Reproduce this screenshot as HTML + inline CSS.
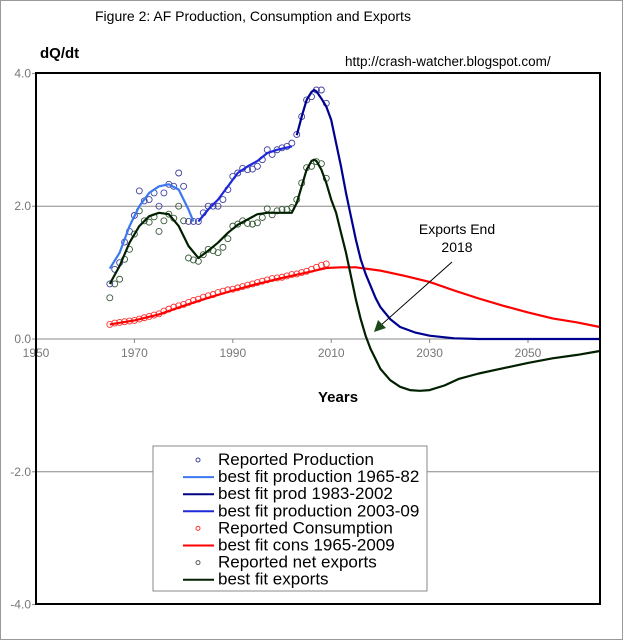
<!DOCTYPE html>
<html><head><meta charset="utf-8"><style>
body{margin:0;background:#fff;}
svg{display:block;font-family:"Liberation Sans",Arial,sans-serif;}
</style></head><body>
<svg id="chart" width="624" height="640" viewBox="0 0 624 640">
<rect x="0.5" y="0.5" width="622" height="639" fill="#fff" stroke="#999"/>
<text x="95" y="21" font-size="14" fill="#000">Figure 2: AF Production, Consumption and Exports</text>
<text x="345" y="66" font-size="13.5" fill="#000">http://crash-watcher.blogspot.com/</text>
<text x="40" y="58" font-size="15" font-weight="bold">dQ/dt</text>
<text x="318" y="402" font-size="15" font-weight="bold">Years</text>
<g id="grid"></g>
<g id="marks"></g>
<text x="457" y="234" font-size="14" text-anchor="middle">Exports End</text>
<text x="457" y="252" font-size="14" text-anchor="middle">2018</text>
<line x1="452" y1="262" x2="380" y2="326" stroke="#000" stroke-width="1"/>
<polygon points="374,332 378,320 386,328" fill="#1a4a1a"/>
<rect x="36" y="73" width="564" height="531" fill="none" stroke="#000" stroke-width="2"/>
<g>
<rect x="153" y="446" width="274" height="145" fill="#fff" stroke="#888"/>
<g id="legend-items" font-size="17"></g>
</g>
</svg>
<script>
const years1 = [1965,1966,1967,1968,1969,1970,1971,1972,1973,1974,1975,1976,1977,1978,1979,1980,1981,1982,1983,1984,1985,1986,1987,1988,1989,1990,1991,1992,1993,1994,1995,1996,1997,1998,1999,2000,2001,2002,2003,2004,2005,2006,2007,2008,2009];
const prodPts = [0.83,1.05,1.15,1.46,1.62,1.86,2.23,2.08,2.1,2.2,2.0,2.2,2.33,2.3,2.5,2.3,1.77,1.77,1.77,1.9,2.0,2.0,2.0,2.1,2.25,2.45,2.5,2.57,2.55,2.56,2.6,2.7,2.85,2.78,2.85,2.88,2.9,2.95,3.08,3.35,3.6,3.65,3.75,3.75,3.55];
const consPts = [0.22,0.24,0.25,0.26,0.27,0.28,0.30,0.32,0.34,0.36,0.38,0.42,0.45,0.48,0.5,0.52,0.55,0.58,0.6,0.63,0.65,0.67,0.7,0.72,0.74,0.75,0.77,0.79,0.81,0.83,0.85,0.87,0.89,0.91,0.92,0.93,0.95,0.97,0.98,1.0,1.02,1.05,1.08,1.11,1.13];
const expPts = [0.62,0.83,0.9,1.2,1.35,1.58,1.93,1.78,1.76,1.84,1.62,1.78,1.88,1.82,2.0,1.78,1.22,1.19,1.17,1.27,1.35,1.33,1.3,1.38,1.51,1.7,1.73,1.78,1.74,1.73,1.75,1.83,1.96,1.87,1.93,1.95,1.95,1.98,2.1,2.35,2.58,2.6,2.67,2.64,2.42];
const fitProd1Yrs = [1965,1967,1969,1971,1973,1975,1977,1979,1981,1982];
const fitProd1 = [1.06,1.3,1.7,2.0,2.2,2.3,2.33,2.25,1.95,1.77];
const fitProd2Yrs = [1983,1985,1987,1989,1991,1993,1995,1997,1999,2002];
const fitProd2 = [1.77,1.95,2.1,2.3,2.5,2.6,2.68,2.8,2.85,2.9];
const fitProd3Yrs = [2003,2004,2005,2006,2006.5,2007,2008,2009,2010,2011,2012,2013,2014,2015,2016,2017,2018,2019,2020,2022,2024,2027,2030,2035,2040,2064.6];
const fitProd3 = [3.07,3.35,3.6,3.72,3.75,3.73,3.62,3.5,3.3,2.95,2.6,2.2,1.85,1.5,1.2,0.98,0.8,0.62,0.48,0.3,0.18,0.1,0.05,0.01,0,0];
const fitConsYrs = [1965,1970,1975,1980,1985,1990,1995,2000,2005,2009,2012,2015,2020,2025,2030,2035,2040,2045,2050,2055,2060,2064.6];
const fitCons = [0.22,0.28,0.37,0.5,0.62,0.73,0.83,0.92,1.0,1.07,1.08,1.08,1.03,0.95,0.86,0.73,0.61,0.5,0.4,0.31,0.25,0.18];
const fitExpYrs = [1965,1967,1969,1971,1973,1975,1977,1979,1981,1983,1985,1987,1989,1991,1993,1995,1997,1999,2002,2003,2004,2005,2006,2006.5,2007,2008,2009,2010,2011,2012,2013,2014,2015,2016,2017,2018,2019,2020,2022,2024,2026,2028,2030,2033,2036,2040,2045,2050,2055,2060,2064.6];
const fitExp = [0.83,1.1,1.45,1.7,1.85,1.9,1.88,1.7,1.4,1.22,1.33,1.45,1.6,1.72,1.8,1.88,1.9,1.9,1.9,2.05,2.3,2.55,2.68,2.7,2.68,2.55,2.35,2.1,1.9,1.6,1.3,0.95,0.6,0.3,0.05,-0.15,-0.3,-0.45,-0.62,-0.72,-0.77,-0.78,-0.77,-0.7,-0.6,-0.52,-0.44,-0.36,-0.29,-0.24,-0.18];
const yTicks = [4.0,2.0,0.0,-2.0,-4.0];
const xTicks = [1950,1970,1990,2010,2030,2050];

const NS='http://www.w3.org/2000/svg';
const X0=36,PXY=4.92,Y0=339,PXU=66.4;
function xs(y){return X0+(y-1950)*PXY;}
function ys(v){return Y0-v*PXU;}
function mk(tag,attrs,parent){const e=document.createElementNS(NS,tag);for(const k in attrs)e.setAttribute(k,attrs[k]);parent.appendChild(e);return e;}
const grid=document.getElementById('grid'),marks=document.getElementById('marks');
yTicks.forEach(t=>{
  if(t!==4&&t!==-4){const l=mk('line',{x1:36,x2:600,y1:ys(t),y2:ys(t),stroke:'#888','stroke-width':1},grid);
  
  }
  const tk=mk('line',{x1:32,x2:36,y1:ys(t),y2:ys(t),stroke:'#888'},grid);
  
  
  const tx=mk('text',{x:31,y:ys(t)+4,'font-size':12,fill:'#777','text-anchor':'end'},grid);
  tx.textContent=t.toFixed(1);
  
  
});
xTicks.forEach(t=>{
  const tk=mk('line',{x1:xs(t),x2:xs(t),y1:339,y2:343,stroke:'#888'},grid);
  
  
  const tx=mk('text',{x:xs(t),y:357,'font-size':12,fill:'#777','text-anchor':'middle'},grid);
  tx.textContent=t;
  
  
});
function line(yrs,vals,color,name){
  const p=mk('polyline',{points:yrs.map((y,i)=>xs(y).toFixed(1)+','+ys(vals[i]).toFixed(1)).join(' '),fill:'none',stroke:color,'stroke-width':2.2,'stroke-linejoin':'round'},marks);
  
  
}
function pts(yrs,vals,color,name){
  yrs.forEach((y,i)=>{const c=mk('circle',{cx:xs(y),cy:ys(vals[i]),r:3,fill:'none',stroke:color,'stroke-width':0.9},marks);
  
  });
}
pts(years1,consPts,'#ff3030','consumption-point');
pts(years1,expPts,'#3a5a3a','export-point');
pts(years1,prodPts,'#4040a0','production-point');
line(fitConsYrs,fitCons,'#ff0000','fit-consumption');
line(fitProd1Yrs,fitProd1,'#3c78f0','fit-production-1965-82');
line(fitProd2Yrs,fitProd2,'#1e28d8','fit-production-1983-2002');
line(fitProd3Yrs,fitProd3,'#000090','fit-production-2003-09');
line(fitExpYrs,fitExp,'#002000','fit-exports');
const leg=document.getElementById('legend-items');
const items=[['Reported Production','c','#4040a0'],['best fit production 1965-82','l','#3c78f0'],['best fit prod 1983-2002','l','#000080'],['best fit production 2003-09','l','#1e28d8'],['Reported Consumption','c','#ff3030'],['best fit cons 1965-2009','l','#ff0000'],['Reported net exports','c','#555'],['best fit exports','l','#002000']];
items.forEach((it,i)=>{
  const y=465+i*17.1;
  if(it[1]==='c'){const c=mk('circle',{cx:198,cy:y-5,r:2,fill:'none',stroke:it[2]},leg);
    
    }
  else{const l=mk('line',{x1:183,x2:214,y1:y-5,y2:y-5,stroke:it[2],'stroke-width':2},leg);
    
    }
  const t=mk('text',{x:218,y:y},leg);
  t.textContent=it[0];
  
  
});
</script>
</body></html>
